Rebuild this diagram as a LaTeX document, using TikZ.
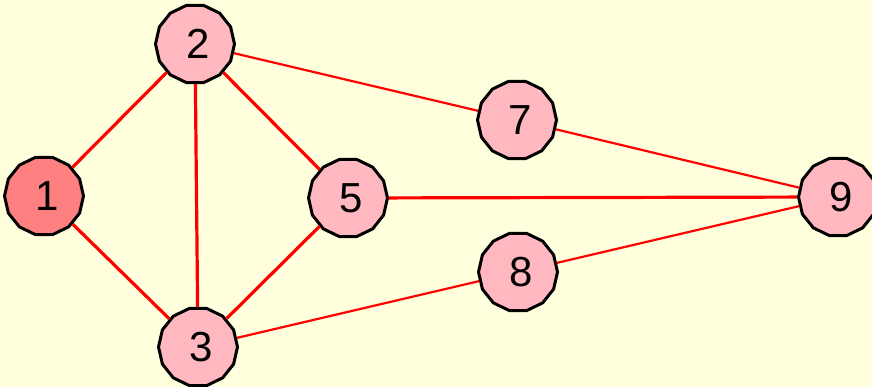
\documentclass[tikz,border=0pt]{standalone}
\usepackage{fontspec}
\setmainfont{Liberation Sans}
\usetikzlibrary{shapes.geometric}
\definecolor{bg}{RGB}{255,255,221}
\definecolor{pinkfill}{RGB}{255,184,192}
\definecolor{darkpink}{RGB}{255,128,128}
\definecolor{edgered}{RGB}{255,0,0}
\tikzset{
  vtx/.style={regular polygon, regular polygon sides=14, minimum size=79pt, inner sep=0pt,
    draw=black, line width=3pt, fill=pinkfill, font=\fontsize{42}{42}\selectfont},
  start/.style={vtx, fill=darkpink},
  thickedge/.style={draw=edgered, line width=3.2pt},
  thinedge/.style={draw=edgered, line width=2.2pt}
}
\begin{document}
\begin{tikzpicture}[x=1pt,y=-1pt]
\fill[bg] (0,0) rectangle (872,387);
\useasboundingbox (0,0) rectangle (872,387);
\node[start] (n1) at (44,196) {\,1};
\node[vtx] (n2) at (195,44) {\,2};
\node[vtx] (n3) at (198,347) {\,3};
\node[vtx] (n5) at (348,198) {\,5};
\node[vtx] (n7) at (517,120) {\,7};
\node[vtx] (n8) at (518,272) {\,8};
\node[vtx] (n9) at (838,197) {\,9};
\draw[thickedge] (n1) -- (n2);
\draw[thickedge] (n1) -- (n3);
\draw[thickedge] (n2) -- (n3);
\draw[thickedge] (n2) -- (n5);
\draw[thickedge] (n3) -- (n5);
\draw[thickedge] (n5) -- (n9);
\draw[thinedge] (n2) -- (n7);
\draw[thinedge] (n7) -- (n9);
\draw[thinedge] (n3) -- (n8);
\draw[thinedge] (n8) -- (n9);
\end{tikzpicture}
\end{document}
